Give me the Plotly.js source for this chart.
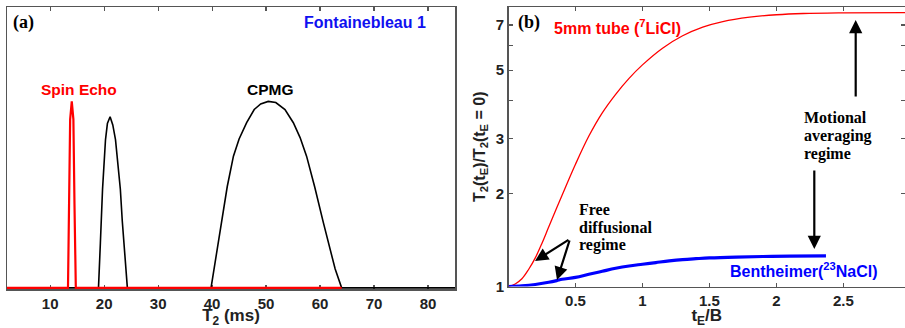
<!DOCTYPE html>
<html>
<head>
<meta charset="utf-8">
<script src="https://cdn.plot.ly/plotly-3.0.1.min.js"></script>
<style>html,body{margin:0;padding:0;background:#fff;}#chart{width:905px;height:328px;}</style>
</head>
<body>
<div id="chart"></div>
<script>
// ---- Panel (a): T2 distributions (Fontainebleau 1) ----
const spinEchoT2 = [2, 13.3, 13.5, 13.7, 14.0, 14.3, 14.5, 14.75, 64];
const spinEchoAmp = [0, 0, 0.30, 0.60, 0.664, 0.60, 0.30, 0, 0];

const cpmgT2 = [2, 18.95, 19.3, 19.7, 20.25, 20.6, 21.1, 21.6, 22.1, 22.55, 23.0, 23.35, 23.7, 24.0, 24.3,
  39.8, 40.8, 41.8, 42.8, 43.95, 45.0, 46.4, 47.8, 49.0, 50.4, 51.8, 53.5, 55.05, 56.3, 57.5, 59.0, 60.6, 61.7, 62.8, 64.0, 85];
const cpmgAmp = [0, 0, 0.16, 0.351, 0.528, 0.585, 0.609, 0.58, 0.528, 0.45, 0.351, 0.24, 0.138, 0.06, 0,
  0, 0.12, 0.233, 0.36, 0.469, 0.53, 0.588, 0.635, 0.655, 0.664, 0.66, 0.635, 0.588, 0.535, 0.469, 0.36, 0.233, 0.15, 0.067, 0, 0];

const panelATicks = [10, 20, 30, 40, 50, 60, 70, 80];

// ---- Panel (b): T2(tE)/T2(tE=0) vs tE/B ----
const tubeX = [0, 0.05, 0.1, 0.15, 0.2, 0.25, 0.3, 0.4, 0.5, 0.6, 0.7, 0.8, 0.9, 1.0, 1.15, 1.3, 1.45, 1.6, 1.8, 2.0, 2.2, 2.5, 2.96];
const tubeY = [1.000, 1.019, 1.059, 1.135, 1.237, 1.380, 1.556, 1.972, 2.483, 3.062, 3.639, 4.178, 4.704, 5.200, 5.888, 6.457, 6.887, 7.178, 7.413, 7.551, 7.621, 7.656, 7.674];

const benthX = [0, 0.1, 0.2, 0.3, 0.36, 0.4, 0.5, 0.6, 0.7, 0.8, 0.9, 1.0, 1.1, 1.2, 1.3, 1.4, 1.5, 1.7, 1.9, 2.1, 2.37];
const benthY = [1.0, 1.005, 1.015, 1.032, 1.045, 1.055, 1.07, 1.095, 1.12, 1.145, 1.165, 1.18, 1.195, 1.21, 1.222, 1.23, 1.237, 1.245, 1.25, 1.253, 1.255];

const panelBXTicks = [0.5, 1, 1.5, 2, 2.5];
const panelBYTicks = [1, 2, 3, 4, 5, 6, 7];
const panelBYText = ['1', '2', '3', '', '5', '', '7'];

// ---- layout helpers (pixel -> paper) ----
const W = 905, H = 328, ML = 7, MR = 0, MT = 7, MB = 39;
const PW = W - ML - MR, PH = H - MT - MB;
const px = x => (x - ML) / PW;
const py = y => (H - MB - y) / PH;

const sans = 'Liberation Sans, Arial, sans-serif';
const serif = 'Liberation Serif, Times New Roman, serif';
const axisCol = '#555';

const traces = [
  {x: cpmgT2, y: cpmgAmp, type: 'scatter', mode: 'lines', xaxis: 'x', yaxis: 'y',
   line: {color: '#000', width: 1.6}, hoverinfo: 'skip'},
  {x: spinEchoT2, y: spinEchoAmp, type: 'scatter', mode: 'lines', xaxis: 'x', yaxis: 'y',
   line: {color: '#ff0000', width: 2.2}, hoverinfo: 'skip'},
  {x: tubeX, y: tubeY, type: 'scatter', mode: 'lines', xaxis: 'x2', yaxis: 'y2',
   line: {color: '#ff0000', width: 1.3, shape: 'spline'}, hoverinfo: 'skip'},
  {x: benthX, y: benthY, type: 'scatter', mode: 'lines', xaxis: 'x2', yaxis: 'y2',
   line: {color: '#0000ff', width: 3.2, shape: 'spline'}, hoverinfo: 'skip'}
];

const tickFont = {family: sans, size: 15, color: '#222', weight: 'bold'};
const sansAnn = (text, x, y, color, xanchor, size) => ({
  text, x: px(x), y: py(y), xref: 'paper', yref: 'paper', showarrow: false,
  xanchor: xanchor || 'left', yanchor: 'middle',
  font: {family: sans, size: size || 15, color, weight: 'bold'}
});
const serifAnn = (text, x, y, size) => ({
  text, x: px(x), y: py(y), xref: 'paper', yref: 'paper', showarrow: false,
  xanchor: 'left', yanchor: 'middle',
  font: {family: serif, size: size || 16, color: '#000', weight: 'bold'}
});
const arrow = (x0, y0, x1, y1) => ({
  x: px(x1), y: py(y1), ax: px(x0), ay: py(y0), xref: 'paper', yref: 'paper',
  axref: 'paper', ayref: 'paper', text: '', showarrow: true,
  arrowhead: 2, arrowsize: 1.2, arrowwidth: 2.2, arrowcolor: '#000', standoff: 0
});

const layout = {
  width: W, height: H,
  margin: {l: ML, r: MR, t: MT, b: MB, pad: 0},
  paper_bgcolor: '#fff', plot_bgcolor: '#fff',
  showlegend: false,
  xaxis: {
    domain: [0, px(455)], range: [2, 85],
    tickvals: panelATicks, ticks: 'inside', ticklen: 4, tickwidth: 1.2, tickcolor: axisCol,
    showline: true, linecolor: axisCol, linewidth: 1.5, mirror: 'ticks',
    showgrid: false, zeroline: false, layer: 'below traces',
    tickfont: tickFont,
    title: {text: 'T<sub>2</sub> (ms)', standoff: 2, font: {family: sans, size: 17, color: '#222', weight: 'bold'}}
  },
  yaxis: {
    domain: [0, 1], range: [-0.004, 1], showticklabels: false, ticks: '',
    showline: true, linecolor: axisCol, linewidth: 1.5, mirror: true,
    showgrid: false, zeroline: false, layer: 'below traces'
  },
  xaxis2: {
    anchor: 'y2', domain: [px(508.5), 1], range: [0, 2.96],
    tickvals: panelBXTicks, ticks: 'inside', ticklen: 4, tickwidth: 1.2, tickcolor: axisCol,
    showline: true, linecolor: axisCol, linewidth: 1.5, mirror: 'ticks',
    showgrid: false, zeroline: false, layer: 'below traces',
    tickfont: tickFont,
    title: {text: 't<sub>E</sub>/B', standoff: 2, font: {family: sans, size: 17, color: '#222', weight: 'bold'}}
  },
  yaxis2: {
    anchor: 'x2', domain: [py(286.5), 1], type: 'log', range: [0, 0.903],
    tickvals: panelBYTicks, ticktext: panelBYText,
    ticks: 'inside', ticklen: 4, tickwidth: 1.2, tickcolor: axisCol,
    showline: true, linecolor: axisCol, linewidth: 1.5, mirror: 'ticks',
    showgrid: false, zeroline: false, layer: 'below traces',
    tickfont: tickFont,
    title: {text: 'T<sub>2</sub>(t<sub>E</sub>)/T<sub>2</sub>(t<sub>E</sub> = 0)', standoff: 6,
            font: {family: sans, size: 16, color: '#222', weight: 'bold'}}
  },
  annotations: [
    serifAnn('(a)', 11, 23, 18),
    sansAnn('Fontainebleau 1', 428, 23, '#1010f0', 'right', 16),
    sansAnn('Spin Echo', 39, 89, '#ff0000', 'left', 15.5),
    sansAnn('CPMG', 270, 89, '#000', 'center', 15.5),
    serifAnn('(b)', 516, 23, 18),
    sansAnn('5mm tube (<sup>7</sup>LiCl)', 552, 27, '#ff0000', 'left', 16),
    sansAnn('Bentheimer(<sup>23</sup>NaCl)', 728, 270, '#0000ff', 'left', 16),
    serifAnn('Motional', 802, 118, 16),
    serifAnn('averaging', 802, 136, 16),
    serifAnn('regime', 802, 154, 16),
    serifAnn('Free', 577, 209, 16),
    serifAnn('diffusional', 577, 227, 16),
    serifAnn('regime', 577, 245, 16),
    arrow(855.7, 98, 855.7, 20),
    arrow(814.3, 169, 814.3, 249),
    arrow(570, 239, 535, 261),
    arrow(570, 239, 557, 280)
  ]
};

Plotly.newPlot('chart', traces, layout, {staticPlot: true, displayModeBar: false});
</script>
</body>
</html>
